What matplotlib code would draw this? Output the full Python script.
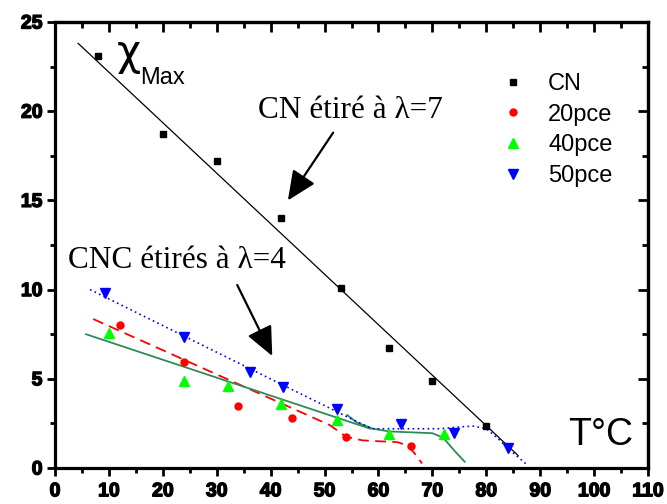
import matplotlib
matplotlib.use('Agg')
import matplotlib.pyplot as plt
import matplotlib.patheffects as pe
from matplotlib.ticker import MultipleLocator

# Data
cn_x = [8, 20, 30, 42, 53, 62, 70, 80]
cn_y = [23.1, 18.7, 17.2, 14.0, 10.1, 6.7, 4.9, 2.35]
cn_fit_x = [4.3, 85.9]
cn_fit_y = [23.8, 0.7]

p20_x = [12, 24, 34, 44, 54, 66]
p20_y = [8.0, 5.95, 3.5, 2.8, 1.75, 1.22]
p20_fit_x = [7.1, 51, 54, 57, 60, 63.5, 65, 66.5, 68.1]
p20_fit_y = [8.35, 2.4, 1.75, 1.55, 1.5, 1.45, 1.3, 0.9, 0.25]

p40_x = [10, 24, 32, 42, 52.3, 62, 72.2]
p40_y = [7.55, 4.9, 4.6, 3.6, 2.7, 1.9, 1.9]
p40_fit_x = [5.75, 58.5]
p40_fit_y = [7.5, 2.2]
p40_tail_x = [54.2, 56, 59, 62, 66, 70, 72, 74, 76]
p40_tail_y = [2.97, 2.55, 2.2, 2.05, 2.0, 1.95, 1.7, 1.0, 0.35]

p50_x = [9.2, 24, 36.2, 42.3, 52.3, 64.2, 74, 84]
p50_y = [9.8, 7.33, 5.4, 4.55, 3.3, 2.45, 1.95, 1.1]
p50_fit_x = [6.5, 55, 58.8, 65, 71.4, 75, 77.5, 80, 82, 84.4, 87.6]
p50_fit_y = [10.0, 2.75, 2.2, 2.2, 2.2, 2.3, 2.35, 2.2, 1.7, 1.0, 0.17]

x_ticks = list(range(0, 111, 10))
y_ticks = list(range(0, 26, 5))

plt.rcParams['font.family'] = ['Liberation Sans', 'DejaVu Sans']

fig = plt.figure(figsize=(6.67, 5.04), dpi=100)
ax = fig.add_axes([55 / 667, 36 / 504, 593 / 667, 446 / 504])

# fitted lines
ax.plot(cn_fit_x, cn_fit_y, color='black', lw=0.9)
ax.plot(p20_fit_x, p20_fit_y, color='red', lw=1.3, ls=(0, (6, 3.5)))
ax.plot(p40_fit_x, p40_fit_y, color='#2e8b57', lw=1.3)
ax.plot(p40_tail_x, p40_tail_y, color='#2e8b57', lw=1.3)
ax.plot(p50_fit_x, p50_fit_y, color='blue', lw=1.2, ls=(0, (1, 2)))

# measured points
ax.plot(cn_x, cn_y, 's', color='black', ms=5, ls='none', label='CN')
ax.plot(p20_x, p20_y, 'o', color='red', ms=5, ls='none', label='20pce')
ax.plot(p40_x, p40_y, '^', color='#00ff00', ms=6.5, ls='none', label='40pce')
ax.plot(p50_x, p50_y, 'v', color='blue', ms=6.5, ls='none', label='50pce')

ax.set_xlim(0, 110)
ax.set_ylim(0, 25)
ax.set_xticks(x_ticks)
ax.set_yticks(y_ticks)
ax.xaxis.set_minor_locator(MultipleLocator(5))
ax.yaxis.set_minor_locator(MultipleLocator(2.5))

for s in ax.spines.values():
    s.set_linewidth(2.3)

ax.tick_params(which='major', direction='out', length=6, width=2, labelsize=14)
ax.tick_params(which='minor', direction='out', length=3.5, width=2)
ax.tick_params(axis='x', pad=5)
ax.tick_params(axis='y', pad=3)

# top and right ticks point inward
top = ax.secondary_xaxis('top')
top.set_xticks(x_ticks)
top.xaxis.set_minor_locator(MultipleLocator(5))
top.tick_params(which='major', direction='in', length=7, width=2, labeltop=False)
top.tick_params(which='minor', direction='in', length=4, width=2)
top.spines['top'].set_linewidth(2.3)
right = ax.secondary_yaxis('right')
right.set_yticks(y_ticks)
right.yaxis.set_minor_locator(MultipleLocator(2.5))
right.tick_params(which='major', direction='in', length=7, width=2, labelright=False)
right.tick_params(which='minor', direction='in', length=4, width=2)
right.spines['right'].set_linewidth(2.3)

leg = ax.legend(loc='upper left', bbox_to_anchor=(0.752, 0.886), frameon=False,
                prop={'family': 'Liberation Sans', 'size': 17}, numpoints=1,
                handlelength=1.0, handletextpad=1.0, labelspacing=0.37,
                borderpad=0, borderaxespad=0)

# text annotations
ax.text(11.5, 22.6, 'χ', fontsize=30, family='DejaVu Sans', ha='left', va='baseline')
ax.text(15.8, 21.5, 'Max', fontsize=17, family='Liberation Sans', ha='left', va='baseline')
ax.text(37.7, 19.6, 'CN étiré à λ=7', fontsize=22.5, family='Liberation Serif',
        ha='left', va='baseline')
ax.text(2.4, 11.2, 'CNC étirés à λ=4', fontsize=22.5, family='Liberation Serif',
        ha='left', va='baseline')
ax.text(95.2, 1.3, 'T°C', fontsize=27, family='Liberation Sans', ha='left', va='baseline')

arrow = dict(arrowstyle='-|>,head_length=1.0,head_width=0.45', color='black',
             lw=1.6, mutation_scale=18, shrinkA=0, shrinkB=0)
ax.annotate('', xy=(43.2, 15.0), xytext=(51.6, 18.8), arrowprops=arrow)
ax.annotate('', xy=(40.3, 6.28), xytext=(33.8, 10.26), arrowprops=arrow)

# heavy tick labels (ticks exist after a first draw)
fig.canvas.draw()
for lab in ax.get_xticklabels() + ax.get_yticklabels():
    lab.set_fontweight('bold')
    lab.set_fontsize(14)
    lab.set_path_effects([pe.withStroke(linewidth=1.0, foreground='black')])

fig.savefig('out.png', dpi=100)
